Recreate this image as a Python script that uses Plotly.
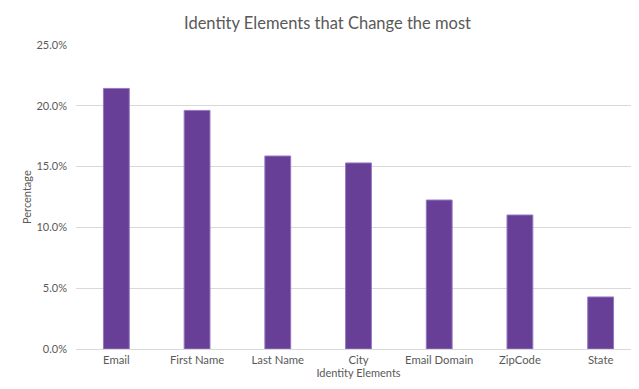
import plotly.graph_objects as go

categories = ["Email", "First Name", "Last Name", "City", "Email Domain", "ZipCode", "State"]
values = [0.2143, 0.1962, 0.1587, 0.1530, 0.1225, 0.1102, 0.0428]
tick_vals = [0, 0.05, 0.10, 0.15, 0.20, 0.25]
tick_text = ["0.0%", "5.0%", "10.0%", "15.0%", "20.0%", "25.0%"]

font_family = "Lato, Open Sans, sans-serif"
grey = "#595959"

fig = go.Figure(go.Bar(
    x=categories, y=values,
    marker=dict(color="#673F97", line=dict(color="#9677C2", width=1)),
    width=0.32,
))

fig.update_layout(
    width=639, height=389,
    margin=dict(l=68, r=6, t=37, b=48),
    paper_bgcolor="white", plot_bgcolor="white",
    title=dict(text="Identity Elements that Change the most", x=0.5, xanchor="center",
               y=1 - 15 / 389, yanchor="middle",
               font=dict(family=font_family, size=16.5, color=grey)),
    showlegend=False,
    font=dict(family=font_family, size=11, color=grey),
    annotations=[dict(
        text="Percentage", textangle=-90, showarrow=False,
        xref="paper", yref="paper", x=-(68 - 18) / 565, y=0.5,
        xanchor="center", yanchor="middle",
        font=dict(family=font_family, size=11, color=grey),
    )],
)
fig.update_xaxes(
    title=dict(text="Identity Elements", font=dict(size=11, color=grey), standoff=3),
    automargin=False,
    showline=True, linecolor="#d9d9d9", linewidth=1,
    ticks="", tickfont=dict(size=11.3, color=grey),
)
fig.update_yaxes(
    automargin=False,
    range=[0, 0.25], tickvals=tick_vals, ticktext=tick_text,
    showgrid=True, gridcolor="#d9d9d9", gridwidth=1,
    zeroline=False, ticks="", ticklabelstandoff=8,
    tickfont=dict(size=11, color=grey),
)

fig.write_html("out.html")
